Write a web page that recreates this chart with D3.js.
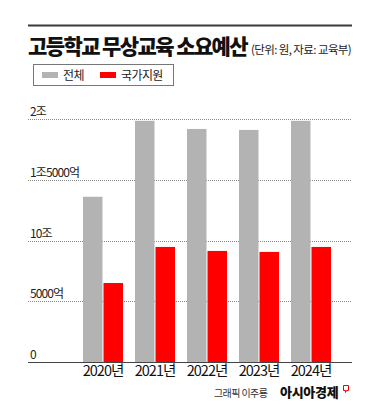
<!DOCTYPE html>
<html>
<head>
<meta charset="utf-8">
<script src="https://cdn.jsdelivr.net/npm/d3@7"></script>
<style>
  body { margin: 0; background: #fff; }
  svg text { font-family: "Noto Sans CJK KR", "Noto Sans", sans-serif; }
</style>
</head>
<body>
<div id="chart-area"></div>
<script>
// data (단위: 억원)
var years = ["2020년", "2021년", "2022년", "2023년", "2024년"];
var seriesNames = ["전체", "국가지원"];
var total = [13600, 19850, 19180, 19100, 19850];
var national = [6500, 9470, 9140, 9060, 9470];
var tickValues = [0, 5000, 10000, 15000, 20000];
var tickLabels = ["0", "5000억", "10조", "1조5000억", "2조"];

var colors = ["#b3b3b3", "#ff0000"];

var svg = d3.select("#chart-area").append("svg")
    .attr("width", 380)
    .attr("height", 404);

// top rule + title
svg.append("line")
    .attr("x1", 28).attr("x2", 352)
    .attr("y1", 25.5).attr("y2", 25.5)
    .attr("stroke", "#3a3a3a")
    .attr("stroke-width", 2);

svg.append("text")
    .attr("x", 28).attr("y", 54)
    .attr("font-size", 21)
    .attr("font-weight", 900)
    .attr("letter-spacing", -1.6)
    .attr("fill", "#111")
    .text("고등학교 무상교육 소요예산");

svg.append("text")
    .attr("x", 251).attr("y", 54)
    .attr("font-size", 11.5)
    .attr("letter-spacing", -0.6)
    .attr("fill", "#222")
    .text("(단위: 원, 자료: 교육부)");

// legend
var legend = svg.append("g");
legend.append("rect")
    .attr("x", 33.5).attr("y", 64.5)
    .attr("width", 140).attr("height", 21)
    .attr("fill", "none")
    .attr("stroke", "#777");
var legX = [42, 100];
seriesNames.forEach(function(name, i) {
  legend.append("rect")
      .attr("x", legX[i]).attr("y", 72)
      .attr("width", 16).attr("height", 6)
      .attr("fill", colors[i]);
  legend.append("text")
      .attr("x", legX[i] + 21).attr("y", 80)
      .attr("font-size", 12)
      .attr("letter-spacing", -0.6)
      .attr("fill", "#222")
      .text(name);
});

// scales
var y = d3.scaleLinear()
    .domain([0, 20000])
    .range([362, 119]);

var x = d3.scaleBand()
    .domain(years)
    .range([77, 337])
    .paddingInner(0.23)
    .paddingOuter(0.115);

var xs = d3.scaleBand()
    .domain(seriesNames)
    .range([0, x.bandwidth()])
    .paddingInner(0.05);

// grid lines + labels
var grid = svg.append("g");
tickValues.forEach(function(v, i) {
  if (v > 0) {
    grid.append("line")
        .attr("x1", 28).attr("x2", 352)
        .attr("y1", Math.round(y(v)) + 0.5).attr("y2", Math.round(y(v)) + 0.5)
        .attr("stroke", "#888")
        .attr("stroke-width", 1)
        .attr("stroke-dasharray", "1,1");
  }
  grid.append("text")
      .attr("x", 30)
      .attr("y", y(v) - 3)
      .attr("font-size", 12)
      .attr("letter-spacing", -0.9)
      .attr("fill", "#222")
      .text(tickLabels[i]);
});

// bars
var groups = svg.selectAll("g.year")
    .data(years)
    .enter().append("g")
    .attr("class", "year")
    .attr("transform", function(d) { return "translate(" + x(d) + ",0)"; });

groups.selectAll("rect")
    .data(function(d, i) { return [total[i], national[i]]; })
    .enter().append("rect")
    .attr("x", function(d, j) { return xs(seriesNames[j]); })
    .attr("y", function(d) { return y(d); })
    .attr("width", xs.bandwidth())
    .attr("height", function(d) { return y(0) - y(d); })
    .attr("fill", function(d, j) { return colors[j]; });

// baseline
svg.append("line")
    .attr("x1", 28).attr("x2", 352)
    .attr("y1", 362.5).attr("y2", 362.5)
    .attr("stroke", "#444")
    .attr("stroke-width", 1.2);

// x labels
var xAxis = d3.axisBottom(x).tickSize(0).tickPadding(0);
var xg = svg.append("g")
    .attr("transform", "translate(0,366)")
    .call(xAxis);
xg.select(".domain").remove();
xg.selectAll("text")
    .attr("font-size", 14.5)
    .attr("letter-spacing", -1)
    .attr("fill", "#111")
    .attr("font-family", "\"Noto Sans CJK KR\", sans-serif");

// credit
svg.append("text")
    .attr("x", 214).attr("y", 397)
    .attr("font-size", 10)
    .attr("letter-spacing", -0.6)
    .attr("fill", "#333")
    .text("그래픽 이주룡");
svg.append("text")
    .attr("x", 280).attr("y", 397)
    .attr("font-size", 13)
    .attr("font-weight", 900)
    .attr("letter-spacing", -0.3)
    .attr("fill", "#111")
    .text("아시아경제");
svg.append("path")
    .attr("d", "M343.5,385.5h5v5h-2l-1,2v-2h-2z")
    .attr("fill", "none")
    .attr("stroke", "#e00")
    .attr("stroke-width", 1);
</script>
</body>
</html>
